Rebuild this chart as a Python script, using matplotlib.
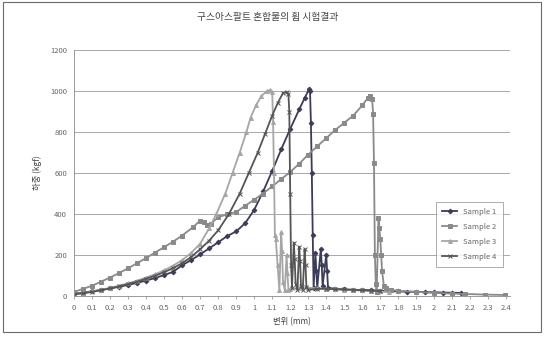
import matplotlib
matplotlib.use("Agg")
import matplotlib.pyplot as plt
from matplotlib.patches import Rectangle

plt.rcParams['font.family'] = ['Noto Sans CJK KR', 'DejaVu Sans']

title = "구스아스팔트 혼합물의 휨 시험결과"
xlabel = "변위 (mm)"
ylabel = "하중 (kgf)"
series_names = ["Sample 1", "Sample 2", "Sample 3", "Sample 4"]

x_ticks = [0, 0.1, 0.2, 0.3, 0.4, 0.5, 0.6, 0.7, 0.8, 0.9, 1.0, 1.1, 1.2, 1.3, 1.4,
           1.5, 1.6, 1.7, 1.8, 1.9, 2.0, 2.1, 2.2, 2.3, 2.4]
x_ticklabels = ["0", "0.1", "0.2", "0.3", "0.4", "0.5", "0.6", "0.7", "0.8", "0.9", "1",
                "1.1", "1.2", "1.3", "1.4", "1.5", "1.6", "1.7", "1.8", "1.9", "2",
                "2.1", "2.2", "2.3", "2.4"]
y_ticks = [0, 200, 400, 600, 800, 1000, 1200]

# Sample 1
s1_x = [0, 0.05, 0.1, 0.15, 0.2, 0.25, 0.3, 0.35, 0.4, 0.45, 0.5, 0.55, 0.6, 0.65, 0.7,
        0.75, 0.8, 0.85, 0.9, 0.95, 1.0, 1.05, 1.1, 1.15, 1.2, 1.25, 1.28, 1.305,
        1.31, 1.315, 1.32, 1.325, 1.33, 1.34, 1.345, 1.35, 1.37, 1.375, 1.38, 1.40,
        1.405, 1.41, 1.45, 1.5, 1.55, 1.6, 1.65, 1.7, 1.75, 1.8, 1.85, 1.9, 1.95,
        2.0, 2.05, 2.1, 2.15]
s1_y = [12, 17, 23, 30, 37, 45, 54, 64, 75, 88, 102, 118, 150, 175, 203,
        232, 262, 292, 315, 355, 420, 510, 610, 715, 815, 910, 965, 1010,
        1000, 845, 600, 300, 40, 210, 120, 40, 230, 150, 50, 200,
        120, 40, 35, 32, 30, 30, 28, 26, 24, 22, 21, 20, 19,
        18, 17, 16, 15]

# Sample 2
s2_x = [0, 0.05, 0.1, 0.15, 0.2, 0.25, 0.3, 0.35, 0.4, 0.45, 0.5, 0.55, 0.6, 0.66, 0.7,
        0.72, 0.74, 0.76, 0.8, 0.85, 0.9, 0.95, 1.0, 1.05, 1.1, 1.15, 1.2, 1.25, 1.3,
        1.35, 1.4, 1.45, 1.5, 1.55, 1.6, 1.63, 1.645, 1.655, 1.66, 1.665, 1.67, 1.675,
        1.68, 1.69, 1.695, 1.7, 1.705, 1.71, 1.72, 1.73, 1.76, 1.8, 1.9, 2.0, 2.1,
        2.17, 2.28, 2.39]
s2_y = [20, 35, 50, 70, 90, 112, 135, 160, 185, 212, 238, 265, 295, 335, 368,
        360, 345, 352, 385, 398, 410, 440, 470, 500, 535, 570, 605, 645, 690,
        730, 770, 810, 845, 880, 930, 965, 978, 960, 890, 650, 200, 60,
        20, 380, 330, 280, 200, 120, 50, 40, 30, 25, 20, 15, 12,
        10, 7, 5]

# Sample 3
s3_x = [0, 0.05, 0.1, 0.15, 0.2, 0.25, 0.3, 0.35, 0.4, 0.45, 0.5, 0.55, 0.6, 0.65, 0.7,
        0.75, 0.79, 0.84, 0.88, 0.92, 0.957, 0.98, 1.01, 1.04, 1.07, 1.09, 1.10,
        1.105, 1.11, 1.115, 1.12, 1.13, 1.14, 1.15, 1.155, 1.16, 1.17, 1.18, 1.185,
        1.19, 1.2, 1.25, 1.3, 1.35, 1.4, 1.45, 1.5, 1.55, 1.6, 1.65, 1.7, 1.75]
s3_y = [10, 15, 22, 30, 40, 50, 62, 75, 90, 106, 125, 148, 175, 210, 255,
        330, 400, 500, 600, 700, 800, 870, 930, 975, 1000, 1005, 995,
        850, 600, 300, 280, 150, 30, 310, 220, 70, 30, 200, 110,
        30, 35, 38, 40, 38, 35, 33, 30, 28, 27, 25, 22, 18]

# Sample 4
s4_x = [0, 0.05, 0.1, 0.15, 0.2, 0.25, 0.3, 0.35, 0.4, 0.45, 0.5, 0.55, 0.6, 0.65, 0.7,
        0.75, 0.8, 0.86, 0.92, 0.97, 1.02, 1.06, 1.1, 1.13, 1.16, 1.18, 1.19,
        1.195, 1.2, 1.205, 1.21, 1.22, 1.225, 1.23, 1.24, 1.25, 1.255, 1.26, 1.27,
        1.28, 1.285, 1.29, 1.3, 1.35, 1.4, 1.45, 1.5, 1.55, 1.6, 1.65, 1.7]
s4_y = [8, 13, 20, 28, 37, 47, 58, 70, 84, 99, 116, 136, 160, 190, 228,
        270, 320, 400, 500, 600, 700, 790, 880, 940, 990, 995, 985,
        900, 500, 150, 40, 260, 180, 60, 30, 240, 170, 50, 30,
        230, 150, 45, 30, 35, 35, 33, 32, 30, 28, 26, 24]

colors = ["#3c3c58", "#8a8a8a", "#a6a6a6", "#555555"]
markers = ["D", "s", "^", "x"]
msizes = [2.4, 2.4, 2.8, 3.0]

fig = plt.figure(figsize=(5.47, 3.40), dpi=100)
fig.patch.set_facecolor("white")
fig.patches.append(Rectangle((3 / 547, 1 - 332 / 340), 538 / 547, 330 / 340,
                             transform=fig.transFigure, fill=False,
                             edgecolor="#6a6a6a", linewidth=0.8))

ax = fig.add_axes([74 / 547, 1 - 296 / 340, (510 - 74) / 547, (296 - 50) / 340])
data = [(s1_x, s1_y), (s2_x, s2_y), (s3_x, s3_y), (s4_x, s4_y)]
for (xs, ys), name, c, m, ms in zip(data, series_names, colors, markers, msizes):
    ax.plot(xs, ys, color=c, marker=m, markersize=ms, linewidth=1.3,
            markeredgewidth=0.7, label=name)

ax.set_xlim(0, 2.42)
ax.set_ylim(0, 1200)
ax.set_xticks(x_ticks)
ax.set_xticklabels(x_ticklabels)
ax.set_yticks(y_ticks)
ax.yaxis.grid(True, color="#a8a8a8", linewidth=0.7)
ax.set_axisbelow(True)
for side in ["top", "right"]:
    ax.spines[side].set_visible(False)
for side in ["left", "bottom"]:
    ax.spines[side].set_color("#999999")
    ax.spines[side].set_linewidth(0.7)
ax.tick_params(axis="both", labelsize=5.5, colors="#999999", labelcolor="#666666",
               length=2, width=0.6)
ax.tick_params(axis="y", length=0, pad=5)

ax.set_xlabel(xlabel, fontsize=6, color="#444444", labelpad=4)
ax.set_ylabel(ylabel, fontsize=6, color="#444444", labelpad=6)
fig.text(0.49, 1 - 17 / 340, title, ha="center", va="center", fontsize=7, color="#444444")

leg = ax.legend(loc="upper left", bbox_to_anchor=(432 / 547, 1 - 198 / 340),
                bbox_transform=fig.transFigure, fontsize=5.5, frameon=True,
                fancybox=False, edgecolor="#888888", borderpad=0.8,
                labelspacing=0.9, handlelength=2.0)
leg.get_frame().set_linewidth(0.6)
for t in leg.get_texts():
    t.set_color("#666666")

fig.savefig("out.png", dpi=100)
